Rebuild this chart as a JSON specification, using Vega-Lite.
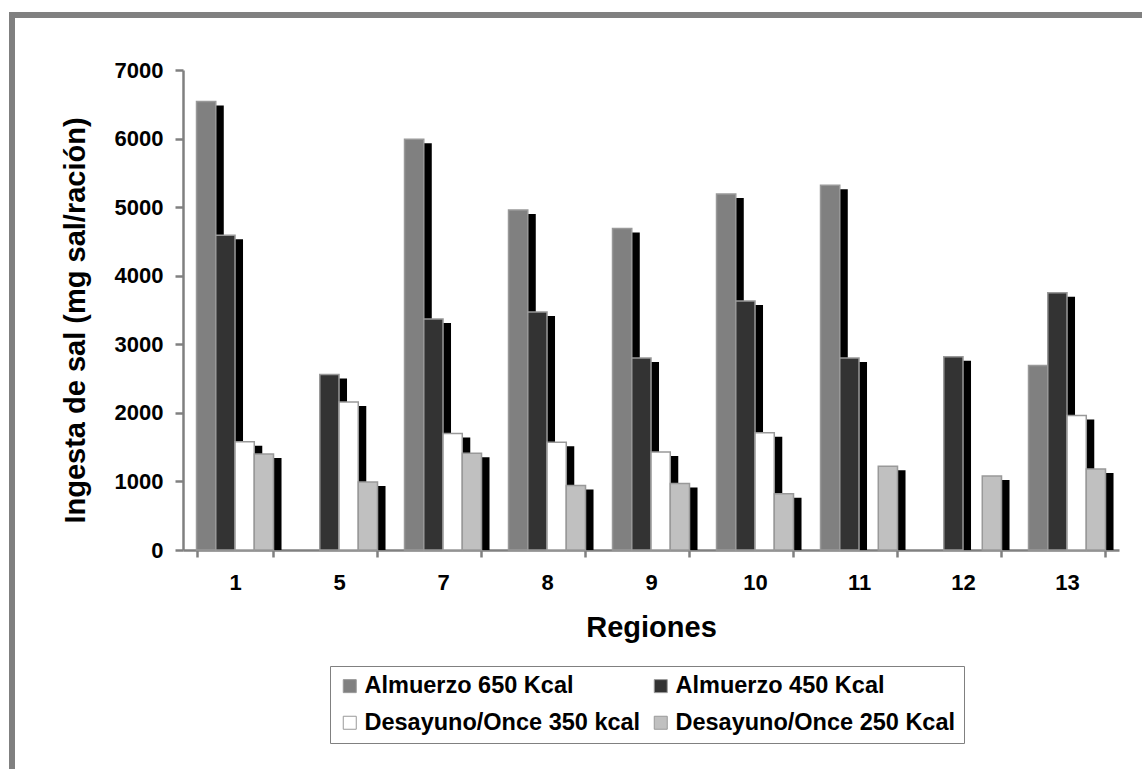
{
  "$schema": "https://vega.github.io/schema/vega-lite/v6.json",
  "width": 1140,
  "height": 764,
  "autosize": {"type": "none"},
  "padding": {"left": 12, "top": 15, "right": -10, "bottom": -10},
  "background": "white",
  "config": {
    "font": "Liberation Sans",
    "view": {"stroke": "#808080", "strokeWidth": 6, "fill": "white"},
    "axis": {
      "domainColor": "#808080",
      "domainWidth": 2.5,
      "tickColor": "#808080",
      "tickWidth": 2.5,
      "grid": false,
      "labelColor": "black",
      "labelFont": "Liberation Sans",
      "labelFontSize": 22,
      "labelFontWeight": "bold",
      "titleColor": "black",
      "titleFont": "Liberation Sans",
      "titleFontSize": 29,
      "titleFontWeight": "bold",
      "zindex": 1
    }
  },
  "data": {
    "values": [
      {"Region": "1", "Comida": "Almuerzo 650 Kcal", "Sal": 6540},
      {"Region": "1", "Comida": "Almuerzo 450 Kcal", "Sal": 4590},
      {"Region": "1", "Comida": "Desayuno/Once 350 kcal", "Sal": 1580},
      {"Region": "1", "Comida": "Desayuno/Once 250 Kcal", "Sal": 1400},
      {"Region": "5", "Comida": "Almuerzo 450 Kcal", "Sal": 2560},
      {"Region": "5", "Comida": "Desayuno/Once 350 kcal", "Sal": 2160},
      {"Region": "5", "Comida": "Desayuno/Once 250 Kcal", "Sal": 990},
      {"Region": "7", "Comida": "Almuerzo 650 Kcal", "Sal": 5990},
      {"Region": "7", "Comida": "Almuerzo 450 Kcal", "Sal": 3370},
      {"Region": "7", "Comida": "Desayuno/Once 350 kcal", "Sal": 1700},
      {"Region": "7", "Comida": "Desayuno/Once 250 Kcal", "Sal": 1410},
      {"Region": "8", "Comida": "Almuerzo 650 Kcal", "Sal": 4960},
      {"Region": "8", "Comida": "Almuerzo 450 Kcal", "Sal": 3470},
      {"Region": "8", "Comida": "Desayuno/Once 350 kcal", "Sal": 1570},
      {"Region": "8", "Comida": "Desayuno/Once 250 Kcal", "Sal": 940},
      {"Region": "9", "Comida": "Almuerzo 650 Kcal", "Sal": 4690},
      {"Region": "9", "Comida": "Almuerzo 450 Kcal", "Sal": 2800},
      {"Region": "9", "Comida": "Desayuno/Once 350 kcal", "Sal": 1430},
      {"Region": "9", "Comida": "Desayuno/Once 250 Kcal", "Sal": 970},
      {"Region": "10", "Comida": "Almuerzo 650 Kcal", "Sal": 5190},
      {"Region": "10", "Comida": "Almuerzo 450 Kcal", "Sal": 3630},
      {"Region": "10", "Comida": "Desayuno/Once 350 kcal", "Sal": 1710},
      {"Region": "10", "Comida": "Desayuno/Once 250 Kcal", "Sal": 820},
      {"Region": "11", "Comida": "Almuerzo 650 Kcal", "Sal": 5320},
      {"Region": "11", "Comida": "Almuerzo 450 Kcal", "Sal": 2800},
      {"Region": "11", "Comida": "Desayuno/Once 250 Kcal", "Sal": 1220},
      {"Region": "12", "Comida": "Almuerzo 450 Kcal", "Sal": 2820},
      {"Region": "12", "Comida": "Desayuno/Once 250 Kcal", "Sal": 1080},
      {"Region": "13", "Comida": "Almuerzo 650 Kcal", "Sal": 2690},
      {"Region": "13", "Comida": "Almuerzo 450 Kcal", "Sal": 3750},
      {"Region": "13", "Comida": "Desayuno/Once 350 kcal", "Sal": 1960},
      {"Region": "13", "Comida": "Desayuno/Once 250 Kcal", "Sal": 1180}
    ]
  },
  "encoding": {
    "x": {
      "field": "Region",
      "type": "ordinal",
      "sort": ["1", "5", "7", "8", "9", "10", "11", "12", "13"],
      "scale": {"range": [171, 1107], "paddingInner": 0.26, "paddingOuter": 0.13},
      "axis": {
        "title": "Regiones",
        "orient": "bottom",
        "offset": -229,
        "labelAngle": 0,
        "tickBand": "extent",
        "tickSize": 7,
        "labelPadding": 15,
        "titlePadding": 20
      }
    },
    "y": {
      "field": "Sal",
      "type": "quantitative",
      "scale": {"domain": [0, 7000], "range": [535, 55], "nice": false},
      "axis": {
        "title": "Ingesta de sal (mg sal/ración)",
        "orient": "left",
        "offset": -171,
        "format": "d",
        "values": [0, 1000, 2000, 3000, 4000, 5000, 6000, 7000],
        "tickSize": 8,
        "labelPadding": 12,
        "titlePadding": 24,
        "titleY": 305
      }
    }
  },
  "layer": [
    {
      "mark": {"type": "bar", "color": "black", "yOffset": 4},
      "encoding": {
        "y2": {"datum": 0},
        "xOffset": {
          "field": "Comida",
          "type": "nominal",
          "sort": ["Almuerzo 650 Kcal", "Almuerzo 450 Kcal", "Desayuno/Once 350 kcal", "Desayuno/Once 250 Kcal"],
          "scale": {"range": [8, 85], "paddingInner": 0, "paddingOuter": 0}
        }
      }
    },
    {
      "mark": {"type": "bar", "stroke": "#999999", "strokeWidth": 1.5},
      "encoding": {
        "xOffset": {
          "field": "Comida",
          "type": "nominal",
          "sort": ["Almuerzo 650 Kcal", "Almuerzo 450 Kcal", "Desayuno/Once 350 kcal", "Desayuno/Once 250 Kcal"],
          "scale": {"range": [0, 77], "paddingInner": 0, "paddingOuter": 0}
        },
        "fill": {
          "field": "Comida",
          "type": "nominal",
          "sort": ["Almuerzo 650 Kcal", "Almuerzo 450 Kcal", "Desayuno/Once 350 kcal", "Desayuno/Once 250 Kcal"],
          "scale": {
            "domain": ["Almuerzo 650 Kcal", "Almuerzo 450 Kcal", "Desayuno/Once 350 kcal", "Desayuno/Once 250 Kcal"],
            "range": ["#808080", "#333333", "#ffffff", "#c0c0c0"]
          },
          "legend": {
            "title": null,
            "orient": "none",
            "legendX": 318,
            "legendY": 651,
            "direction": "horizontal",
            "columns": 2,
            "symbolType": "square",
            "symbolSize": 169,
            "symbolStrokeColor": "#999999",
            "symbolStrokeWidth": 1,
            "labelFont": "Liberation Sans",
            "labelFontSize": 23.5,
            "labelFontWeight": "bold",
            "labelColor": "black",
            "labelLimit": 400,
            "labelOffset": 3,
            "strokeColor": "#808080",
            "padding": 8,
            "rowPadding": 12,
            "columnPadding": 8
          }
        }
      }
    }
  ],
  "resolve": {"scale": {"xOffset": "independent"}}
}
